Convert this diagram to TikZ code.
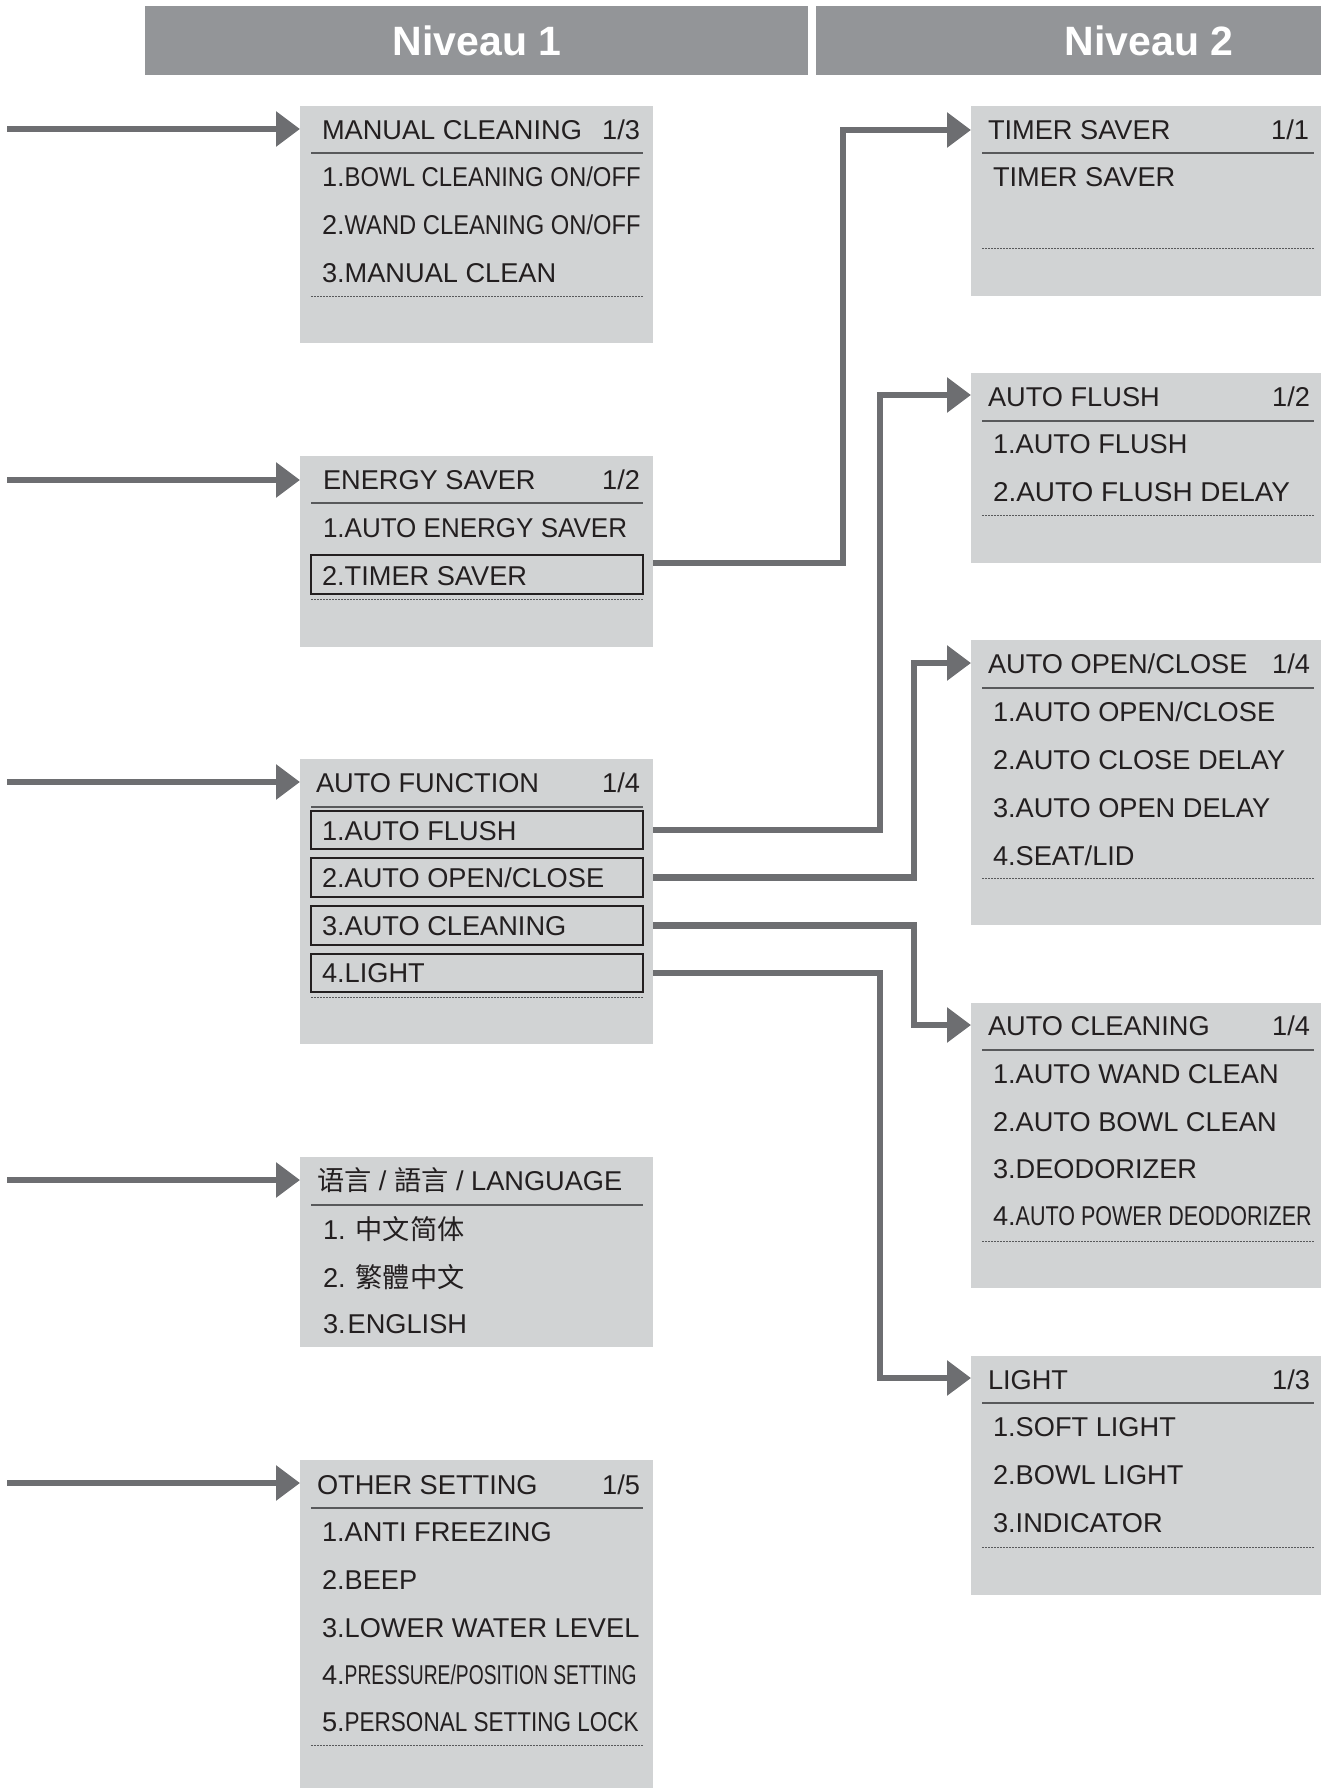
\documentclass[tikz,border=0pt]{standalone}
\usepackage{fontspec}
\usepackage{graphicx}
\setmainfont{Liberation Sans}
\newfontfamily\cjk{Noto Sans CJK SC}
\usetikzlibrary{arrows.meta}
\definecolor{hdr}{HTML}{939598}
\definecolor{boxbg}{HTML}{D1D3D4}
\definecolor{conn}{HTML}{6D6E71}
\definecolor{sepc}{HTML}{58595B}
\definecolor{txtc}{HTML}{231F20}
\tikzset{
  bgbox/.style={fill=boxbg, draw=none, inner sep=0, outer sep=0},
  hdrbox/.style={fill=hdr, draw=none, inner sep=0, outer sep=0},
  lbl/.style={inner sep=0, outer sep=0, text=txtc, font=\fontsize{13.6pt}{16pt}\selectfont},
  hdrtxt/.style={inner sep=0, text=white, font=\fontsize{20.5pt}{24pt}\selectfont\bfseries},
  frm/.style={draw=txtc, line width=0.7pt, fill=none, inner sep=0, outer sep=0},
  sepl/.style={draw=sepc, line width=0.8pt},
  dotl/.style={draw=sepc, line width=0.5pt, dash pattern=on 0.8pt off 0.7pt},
  conline/.style={draw=conn, line width=3.3pt, -{Triangle[length=12pt,width=17pt]}},
}
\newcommand\mrect[6]{\node[#1, anchor=north west, minimum width={(#5-#3)*0.5pt}, minimum height={(#6-#4)*0.5pt}] (#2) at (#3,#4) {};}
\newcommand\mtxt[4]{\node[lbl, anchor=base west] (#1) at (#2,{#3+9.75}) {#4};}
\newcommand\mrtxt[4]{\node[lbl, anchor=base east] (#1) at (#2,{#3+9.75}) {#4};}
\newcommand\cnd[2]{\resizebox{#1}{\height}{#2}}
\begin{document}
\begin{tikzpicture}[x=0.5pt,y=-0.5pt]
\useasboundingbox (0,0) rectangle (1321,1788);
% headers
\mrect{hdrbox}{h1}{145}{6}{808}{75}
\mrect{hdrbox}{h2}{816}{6}{1321}{75}
\node[hdrtxt] (h1t) at (477,41) {Niveau 1};
\node[hdrtxt] (h2t) at (1149,41) {Niveau 2};

% ---------- Level 1 ----------
% Manual cleaning
\mrect{bgbox}{man}{300}{106}{653}{343}
\mtxt{manT}{322}{130}{MANUAL CLEANING}
\mrtxt{manN}{640}{130}{1/3}
\draw[sepl] (311,153) -- (643,153);
\mtxt{man1}{322}{177}{1.\cnd{148pt}{BOWL CLEANING ON/OFF}}
\mtxt{man2}{322}{225}{2.\cnd{148pt}{WAND CLEANING ON/OFF}}
\mtxt{man3}{322}{273}{3.MANUAL CLEAN}
\draw[dotl] (311,296) -- (643,296);

% Energy saver
\mrect{bgbox}{ene}{300}{456}{653}{647}
\mtxt{eneT}{323}{480}{ENERGY SAVER}
\mrtxt{eneN}{640}{480}{1/2}
\draw[sepl] (311,503) -- (643,503);
\mtxt{ene1}{323}{528}{\cnd{152pt}{1.AUTO ENERGY SAVER}}
\mrect{frm}{ene2f}{311}{555}{643}{594}
\mtxt{ene2}{322}{576}{2.TIMER SAVER}
\draw[dotl] (311,599) -- (643,599);

% Auto function
\mrect{bgbox}{af}{300}{759}{653}{1044}
\mtxt{afT}{316}{783}{AUTO FUNCTION}
\mrtxt{afN}{640}{783}{1/4}
\draw[sepl] (311,807) -- (643,807);
\mrect{frm}{af1f}{311}{811}{643}{849}
\mrect{frm}{af2f}{311}{858}{643}{897}
\mrect{frm}{af3f}{311}{906}{643}{945}
\mrect{frm}{af4f}{311}{954}{643}{992}
\mtxt{af1}{322}{831}{1.AUTO FLUSH}
\mtxt{af2}{322}{878}{2.AUTO OPEN/CLOSE}
\mtxt{af3}{322}{926}{3.AUTO CLEANING}
\mtxt{af4}{322}{973}{4.LIGHT}
\draw[dotl] (311,997) -- (643,997);

% Language
\mrect{bgbox}{lang}{300}{1157}{653}{1347}
\mtxt{langT}{317}{1181}{{\cjk 语言} / {\cjk 語言} / LANGUAGE}
\draw[sepl] (311,1205) -- (643,1205);
\mtxt{lang1}{323}{1230}{1. {\cjk 中文简体}}
\mtxt{lang2}{323}{1278}{2. {\cjk 繁體中文}}
\mtxt{lang3}{323}{1324}{3.\kern1pt ENGLISH}

% Other setting
\mrect{bgbox}{oth}{300}{1460}{653}{1788}
\mtxt{othT}{317}{1485}{OTHER SETTING}
\mrtxt{othN}{640}{1485}{1/5}
\draw[sepl] (311,1508) -- (643,1508);
\mtxt{oth1}{322}{1532}{1.ANTI FREEZING}
\mtxt{oth2}{322}{1580}{2.BEEP}
\mtxt{oth3}{322}{1628}{3.LOWER WATER LEVEL}
\mtxt{oth4}{322}{1675}{4.\cnd{146pt}{PRESSURE/POSITION SETTING}}
\mtxt{oth5}{322}{1722}{5.\cnd{147pt}{PERSONAL SETTING LOCK}}
\draw[dotl] (311,1745) -- (643,1745);

% ---------- Level 2 ----------
% Timer saver
\mrect{bgbox}{tim}{971}{106}{1321}{296}
\mtxt{timT}{988}{130}{TIMER SAVER}
\mrtxt{timN}{1309}{130}{1/1}
\draw[sepl] (982,153) -- (1314,153);
\mtxt{tim1}{993}{177}{TIMER SAVER}
\draw[dotl] (982,248) -- (1314,248);

% Auto flush
\mrect{bgbox}{afl}{971}{373}{1321}{563}
\mtxt{aflT}{988}{397}{AUTO FLUSH}
\mrtxt{aflN}{1310}{397}{1/2}
\draw[sepl] (982,421) -- (1314,421);
\mtxt{afl1}{993}{444}{1.AUTO FLUSH}
\mtxt{afl2}{993}{492}{\cnd{148.5pt}{2.AUTO FLUSH DELAY}}
\draw[dotl] (982,515) -- (1314,515);

% Auto open/close
\mrect{bgbox}{aoc}{971}{640}{1321}{925}
\mtxt{aocT}{988}{664}{AUTO OPEN/CLOSE}
\mrtxt{aocN}{1310}{664}{1/4}
\draw[sepl] (982,688) -- (1314,688);
\mtxt{aoc1}{993}{712}{1.AUTO OPEN/CLOSE}
\mtxt{aoc2}{993}{760}{2.AUTO CLOSE DELAY}
\mtxt{aoc3}{993}{808}{3.AUTO OPEN DELAY}
\mtxt{aoc4}{993}{856}{4.SEAT/LID}
\draw[dotl] (982,878) -- (1314,878);

% Auto cleaning
\mrect{bgbox}{acl}{971}{1003}{1321}{1288}
\mtxt{aclT}{988}{1026}{AUTO CLEANING}
\mrtxt{aclN}{1310}{1026}{1/4}
\draw[sepl] (982,1050) -- (1314,1050);
\mtxt{acl1}{993}{1074}{1.AUTO WAND CLEAN}
\mtxt{acl2}{993}{1122}{2.AUTO BOWL CLEAN}
\mtxt{acl3}{993}{1169}{3.DEODORIZER}
\mtxt{acl4}{993}{1216}{4.\cnd{148pt}{AUTO POWER DEODORIZER}}
\draw[dotl] (982,1241) -- (1314,1241);

% Light
\mrect{bgbox}{lig}{971}{1356}{1321}{1595}
\mtxt{ligT}{988}{1380}{LIGHT}
\mrtxt{ligN}{1310}{1380}{1/3}
\draw[sepl] (982,1403) -- (1314,1403);
\mtxt{lig1}{993}{1427}{1.SOFT LIGHT}
\mtxt{lig2}{993}{1475}{2.BOWL LIGHT}
\mtxt{lig3}{993}{1523}{3.INDICATOR}
\draw[dotl] (982,1547) -- (1314,1547);

% ---------- connectors ----------
\coordinate (inM) at (7,129);
\coordinate (inE) at (7,480);
\coordinate (inA) at (7,782);
\coordinate (inL) at (7,1180);
\coordinate (inO) at (7,1483);
\draw[conline] (inM) -- (inM -| man.west);
\draw[conline] (inE) -- (inE -| ene.west);
\draw[conline] (inA) -- (inA -| af.west);
\draw[conline] (inL) -- (inL -| lang.west);
\draw[conline] (inO) -- (inO -| oth.west);

\coordinate (esOut) at (653,563);
\coordinate (k1) at (843,130);
\coordinate (k2) at (880,395);
\coordinate (k3) at (914,663);
\coordinate (k4) at (914,1025);
\coordinate (k5) at (880,1378);
\draw[conline] (esOut) -| (k1) -- (k1 -| tim.west);
\draw[conline] (af.east |- af1f.center) -| (k2) -- (k2 -| afl.west);
\draw[conline] (af.east |- af2f.center) -| (k3) -- (k3 -| aoc.west);
\draw[conline] (af.east |- af3f.center) -| (k4) -- (k4 -| acl.west);
\draw[conline] (af.east |- af4f.center) -| (k5) -- (k5 -| lig.west);
\end{tikzpicture}
\end{document}
